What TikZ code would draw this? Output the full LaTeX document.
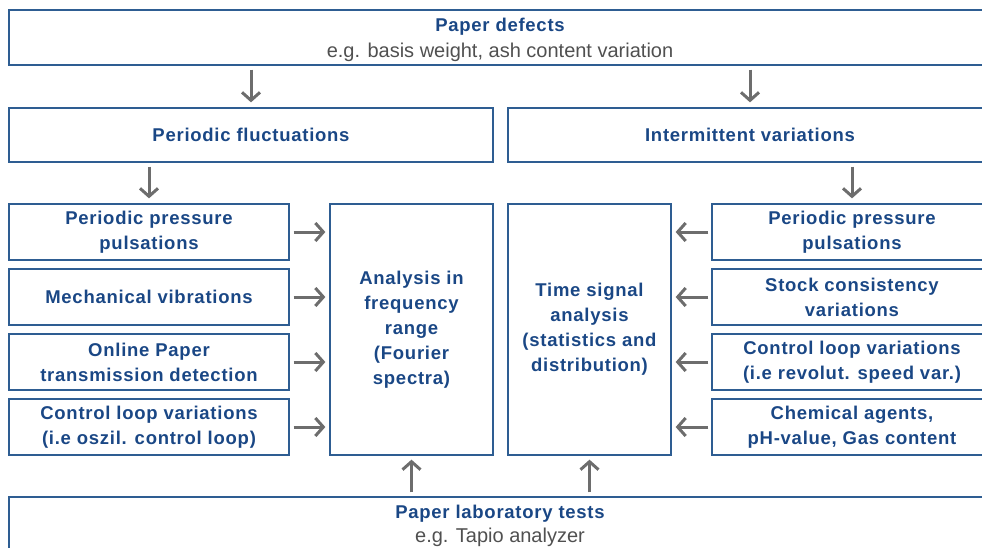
\documentclass[tikz,border=0pt]{standalone}
\usepackage{fontspec}
\setmainfont{Liberation Sans}
\newfontfamily\bluefont[LetterSpace=4]{Liberation Sans}
\usetikzlibrary{arrows.meta}
\definecolor{bluetxt}{HTML}{1A4785}
\definecolor{blueline}{HTML}{2E5D92}
\definecolor{arrgray}{HTML}{6D6D6D}
\definecolor{subgray}{HTML}{505050}
\tikzset{
  box/.style={draw=blueline, line width=1.3pt, rectangle, inner sep=0pt, align=center,
    text=bluetxt, font=\bluefont\bfseries\fontsize{18.5}{25}\selectfont},
  txt/.style={inner sep=0pt, align=center, text=bluetxt,
    font=\bluefont\bfseries\fontsize{18.5}{25}\selectfont},
  arr/.style={draw=arrgray, line width=3pt,
    -{Straight Barb[length=8pt,width=18pt,line width=3pt]}},
}
\newcommand{\subtxt}[1]{{\normalfont\color{subgray}\fontsize{20}{24}\selectfont #1}}
\begin{document}
\begin{tikzpicture}[x=1pt,y=-1pt]
\useasboundingbox (0,0) rectangle (982,547);
\clip (0,0) rectangle (982,547);
% top and bottom
\node[box, minimum width=982pt, minimum height=55pt] (top) at (500,37.5) {};
\node[txt, yshift=-2pt] (toptxt) at (top.center)
  {Paper defects\\[1pt]\subtxt{e.g. basis weight, ash content variation}};
\node[box, minimum width=982pt, minimum height=55pt] (bot) at (500,524.5) {};
\node[txt, yshift=-1.5pt] (bottxt) at (bot.center)
  {Paper laboratory tests\\[-1pt]\subtxt{e.g. Tapio analyzer}};
% second row
\node[box, minimum width=484pt, minimum height=54pt] (pf) at (251,135) {Periodic fluctuations};
\node[box, minimum width=484pt, minimum height=54pt] (iv) at (750,135) {Intermittent variations};
% left column
\node[box, minimum width=280pt, minimum height=56pt] (l1) at (149,232) {Periodic pressure\\pulsations};
\node[box, minimum width=280pt, minimum height=56pt] (l2) at (149,297) {Mechanical vibrations};
\node[box, minimum width=280pt, minimum height=56pt] (l3) at (149,362) {Online Paper\\transmission detection};
\node[box, minimum width=280pt, minimum height=56pt] (l4) at (149,427) {Control loop variations\\(i.e oszil. control loop)};
% analysis boxes
\node[box, minimum width=163pt, minimum height=251pt] (freq) at (411.5,329.5)
  {Analysis in\\frequency\\range\\(Fourier\\spectra)};
\node[box, minimum width=163pt, minimum height=251pt] (time) at (589.5,329.5)
  {Time signal\\analysis\\(statistics and\\distribution)};
% right column
\node[box, minimum width=280pt, minimum height=56pt] (r1) at (852,232) {Periodic pressure\\pulsations};
\node[box, minimum width=280pt, minimum height=56pt] (r2) at (852,297) {Stock consistency\\variations};
\node[box, minimum width=280pt, minimum height=56pt] (r3) at (852,362) {Control loop variations\\(i.e revolut. speed var.)};
\node[box, minimum width=280pt, minimum height=56pt] (r4) at (852,427) {Chemical agents,\\pH-value, Gas content};
% arrows
\draw[arr] ([yshift=-4pt]top.south -| pf.north) -- ([yshift=5pt]pf.north);
\draw[arr] ([yshift=-4pt]top.south -| iv.north) -- ([yshift=5pt]iv.north);
\draw[arr] ([yshift=-4pt]pf.south -| l1.north) -- ([yshift=5pt]l1.north);
\draw[arr] ([yshift=-4pt]iv.south -| r1.north) -- ([yshift=5pt]r1.north);
\foreach \n in {l1,l2,l3,l4}
  \draw[arr] ([xshift=4pt]\n.east) -- ([xshift=-4pt]\n.east -| freq.west);
\foreach \n in {r1,r2,r3,r4}
  \draw[arr] ([xshift=-3pt]\n.west) -- ([xshift=4pt]\n.west -| time.east);
\draw[arr] ([yshift=4pt]bot.north -| freq.south) -- ([yshift=-4pt]freq.south);
\draw[arr] ([yshift=4pt]bot.north -| time.south) -- ([yshift=-4pt]time.south);
\end{tikzpicture}
\end{document}
